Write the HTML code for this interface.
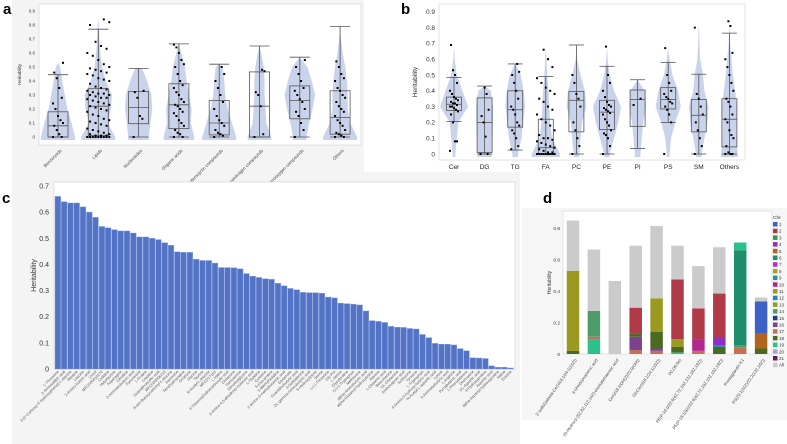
<!DOCTYPE html>
<html><head><meta charset="utf-8"><style>
html,body{margin:0;padding:0;background:#fff;}
svg{display:block;font-family:"Liberation Sans",sans-serif;}
</style></head><body>
<svg id="fig" width="787" height="444" viewBox="0 0 787 444" xmlns="http://www.w3.org/2000/svg">
<rect x="12" y="0" width="352" height="179" fill="#f4f4f4"/>
<rect x="12" y="172" width="508" height="272" fill="#f4f4f4"/>
<rect x="522" y="208" width="265" height="212" fill="#f6f6f6"/>
<g id="ga"></g>
<g id="gb"></g>
<g id="gc"></g>
<g id="gd"></g>
<text x="3" y="14" font-size="15" font-weight="bold">a</text>
<text x="401" y="14" font-size="15" font-weight="bold">b</text>
<text x="2" y="203" font-size="15" font-weight="bold">c</text>
<text x="543" y="203" font-size="15" font-weight="bold">d</text>
</svg>
<script>
const NS="http://www.w3.org/2000/svg";
function mk(parent,tag,attrs,txt){const e=document.createElementNS(NS,tag);for(const k in attrs)e.setAttribute(k,attrs[k]);if(txt!==undefined)e.textContent=txt;parent.appendChild(e);return e;}

// ---------- Panel a data ----------
const aCats=["Benzenoids","Lipids","Nucleosides","Organic acids","Organoheterocyclic compounds","Organonitrogen compounds","Organooxygen compounds","Others"];
const aQ1=[0,0.01,0.095,0.06,0.015,0,0.13,0.02];
const aMed=[0.08,0.22,0.21,0.23,0.10,0.22,0.26,0.14];
const aQ3=[0.18,0.345,0.325,0.38,0.26,0.465,0.365,0.33];
const aLo=[0,0,0,0,0,0,0,0];
const aHi=[0.445,0.77,0.49,0.665,0.52,0.65,0.57,0.79];
const aMax=[0.53,0.85,0.49,0.665,0.52,0.65,0.57,0.79];
const aViolin=[[1,.8,.55,.4,.25,.12,0],[1,.55,.75,.8,.45,.22,.12,.07,.03],[.6,.7,.8,.75,.5,.2],[.9,.7,.75,.6,.45,.35,.15],[1,.75,.5,.35,.3,.2],[.7,.4,.35,.3,.3,.25,.1],[.4,.55,.75,.9,.7,.45],[1,.6,.45,.45,.4,.3,.15,.05]];
const aTicks=[0,0.1,0.2,0.3,0.4,0.5,0.6,0.7,0.8,0.9];
const aDots=[[0,0,0.02,0.05,0.08,0.1,0.12,0.15,0.2,0.24,0.28,0.35,0.42,0.46,0.53],
[0,0,0,0,0,0,0,0,0,0,0.01,0.01,0.01,0.02,0.02,0.03,0.04,0.05,0.06,0.08,0.09,0.1,0.11,0.12,0.13,0.15,0.16,0.18,0.19,0.2,0.21,0.22,0.23,0.24,0.25,0.26,0.27,0.28,0.28,0.29,0.3,0.3,0.31,0.31,0.32,0.33,0.34,0.35,0.36,0.38,0.4,0.41,0.42,0.44,0.45,0.46,0.47,0.48,0.49,0.5,0.52,0.55,0.58,0.6,0.63,0.65,0.68,0.8,0.82,0.84],
[0,0.13,0.15,0.28,0.32,0.33],
[0,0,0.02,0.03,0.05,0.08,0.1,0.12,0.15,0.17,0.18,0.2,0.22,0.23,0.25,0.27,0.3,0.32,0.35,0.37,0.4,0.45,0.5,0.52,0.55,0.6,0.64,0.66],
[0,0.01,0.02,0.03,0.05,0.08,0.1,0.12,0.15,0.2,0.25,0.3,0.35,0.4,0.45,0.5],
[0,0.02,0.22,0.3,0.32,0.47,0.48],
[0,0.05,0.1,0.15,0.18,0.2,0.25,0.27,0.3,0.33,0.35,0.4,0.45,0.5,0.55],
[0,0,0.01,0.02,0.03,0.05,0.08,0.1,0.12,0.15,0.18,0.2,0.22,0.25,0.28,0.3,0.33,0.35,0.4,0.42,0.45,0.5,0.54]];

// ---------- Panel b data ----------
const bCats=["Cer","DG","TG","FA","PC","PE","PI","PS","SM","Others"];
const bQ1=[0.275,0.01,0.17,0,0.14,0.155,0.175,0.285,0.14,0.045];
const bMed=[0.315,0.20,0.28,0.04,0.34,0.265,0.345,0.345,0.245,0.22];
const bQ3=[0.36,0.355,0.40,0.22,0.395,0.34,0.405,0.42,0.345,0.35];
const bLo=[0.205,0,0.025,0,0,0,0.035,0.20,0,0];
const bHi=[0.485,0.43,0.57,0.49,0.69,0.555,0.47,0.58,0.505,0.765];
const bMax=[0.69,0.43,0.57,0.66,0.69,0.68,0.47,0.67,0.80,0.85];
const bViolin=[[.1,.2,.3,1,.6,.2,.05],[.5,.55,.6,.6,.45],[.2,.45,.55,.7,.6,.4],[1,.45,.3,.25,.2,.1,.05],[.2,.3,.4,.7,.6,.3,.05],[.2,.5,.8,1,.5,.2,.05],[.2,.3,.4,.6,.5],[.1,.2,.5,.9,.7,.3,.1],[.2,.4,.6,.7,.4,.3,.1,.05,.02],[.6,.5,.5,.55,.4,.25,.15,.05,.02]];
const bTicks=[0,0.1,0.2,0.3,0.4,0.5,0.6,0.7,0.8,0.9];
const bDots=[[0.02,0.08,0.08,0.2,0.25,0.27,0.28,0.29,0.3,0.3,0.31,0.32,0.32,0.33,0.34,0.35,0.36,0.38,0.4,0.45,0.5,0.53,0.69],
[0,0,0.11,0.2,0.24,0.28,0.38,0.42],
[0.03,0.05,0.1,0.13,0.15,0.18,0.2,0.25,0.28,0.3,0.35,0.4,0.45,0.5,0.52,0.57],
[0,0,0,0,0,0,0,0,0,0,0.01,0.01,0.02,0.03,0.04,0.05,0.06,0.07,0.08,0.09,0.1,0.1,0.12,0.15,0.18,0.2,0.22,0.25,0.28,0.3,0.33,0.35,0.38,0.4,0.42,0.45,0.48,0.55,0.6,0.66],
[0,0.05,0.1,0.15,0.2,0.3,0.35,0.38,0.45,0.5],
[0,0.05,0.1,0.12,0.13,0.15,0.18,0.2,0.22,0.25,0.26,0.27,0.28,0.29,0.3,0.31,0.33,0.36,0.4,0.45,0.5,0.68],
[0.31,0.35],
[0,0.2,0.25,0.28,0.3,0.32,0.33,0.35,0.36,0.38,0.4,0.45,0.5,0.67],
[0,0.05,0.1,0.15,0.2,0.25,0.3,0.35,0.38,0.8],
[0,0,0,0.01,0.05,0.1,0.12,0.15,0.2,0.22,0.25,0.3,0.33,0.35,0.4,0.45,0.5,0.55,0.6,0.64,0.81,0.84]];

// ---------- Panel c data ----------
const cLabels=["L-Threonine","2-Aminoadipic acid","3-(3'-Carboxy-4'-hydroxyphenyl)-L-alanine","Betaine","Leucine","2-Amino-butyric acid","Uracil","MFCD00010270","Cytidine","Hypotaurine","Asparagine","Citrulline","2-Aminoisobutyric acid","Kynurenine","L-Proline","Creatine","Guanidinoacetic acid","MFCD00006215","N-tert-Butoxycarbonyl-L-leucine","Sarcosine","Tetrahydrouridine","Ornithine","Glycine","Taurine","N-Acetyl-L-leucine","MFCD17153","L-Valine","3-Thiomorpholinecarboxylic acid","Glutamine","Homoserine","Dimethylglycine","2-Amino-4,5-dihydroxy-butanoic acid","L-Histidine","Cysteine","5-Oxo-proline","3-Methylhistidine","2-amino-3-methylbutanoic acid","Glutamate","Guanidinobutyric acid","3-Sulfoalanine","DL-gamma-Aminobutyric acid","5-Hydroxylysine","Serine","L-(-)-Threonine","Gly-Pro","L-Serine","Glycylproline","D-(+)-Tryptophan","Methionine","alpha-Aminobutyric acid","alpha-Glutamyl-hydroxylysine","Alanine","L-Glutamic acid","Beta-Alanine","DL-Glutamine","Aminocaproic acid","Isoleucine","Tyrosine","L-Tryptophan","4-Amino-3-hydroxy-butyric acid","N-Acetyl-L-aspartic acid","Lysine","3-Aminoisobutyric acid","L-Arginine","Pyroglutamic acid","L-Phenylalanine","Desmosine","DL-Aspartic acid","4-Hydroxyproline","Aspartic acid","alpha-Aspartyl-hydroxyproline","Valine","Ectoine"];
const cValues=[0.66,0.64,0.635,0.635,0.62,0.60,0.58,0.545,0.54,0.533,0.528,0.528,0.52,0.505,0.505,0.50,0.495,0.483,0.473,0.448,0.446,0.446,0.42,0.415,0.415,0.405,0.388,0.388,0.387,0.383,0.365,0.355,0.35,0.345,0.343,0.328,0.318,0.308,0.303,0.293,0.292,0.292,0.29,0.275,0.272,0.252,0.25,0.248,0.245,0.222,0.185,0.182,0.178,0.163,0.16,0.159,0.155,0.153,0.132,0.12,0.098,0.095,0.095,0.092,0.078,0.07,0.043,0.042,0.04,0.012,0.007,0.007,0.004];
const cTicks=[0,0.1,0.2,0.3,0.4,0.5,0.6,0.7];

// ---------- Panel d data ----------
const dCats=["3'-sulfoGalbeta-Cer(d18:1/24:1(15Z))","3-Ureidopropionic acid","20-Hydroxy-(5Z,8Z,11Z,14Z)-eicosatetraenoic acid","Cer(d18:1/OH(2)/22:0(OH))","GlcCer(d18:1/24:1(15Z))","PC(36:6e)","PE(P-16:0/22:6(4Z,7Z,10Z,13Z,16Z,19Z))","PE(P-18:1(9Z)/22:6(4Z,7Z,10Z,13Z,16Z,19Z))","Prostaglandin K1","PS(20:1(11Z)/22:2(13Z,16Z))"];
const dSegChr=[[18,11,"All"],[19,17,14,"All"],["All"],[17,16,18,2,"All"],[17,16,18,11,"All"],[19,18,11,2,"All"],[17,10,2,"All"],[18,12,4,2,"All"],[17,14,6,19],[18,5,1,"All"]];
const dSegVal=[[0.02,0.51,0.32],[0.09,0.02,0.165,0.39],[0.465],[0.025,0.085,0.02,0.165,0.395],[0.02,0.015,0.105,0.215,0.46],[0.01,0.035,0.05,0.38,0.215],[0.02,0.075,0.195,0.27],[0.045,0.01,0.05,0.28,0.295],[0.04,0.015,0.605,0.05],[0.035,0.095,0.205,0.025]];
const dLegend=[1,2,3,4,5,6,7,8,9,10,11,12,13,14,15,16,17,18,19,20,21,"All"];
const dColors={1:"#3b62c4",2:"#b13a48",3:"#2f9a3c",4:"#8e2fc4",5:"#b0641e",6:"#1f8c6c",7:"#b52fc4",8:"#a9a21e",9:"#1e9a9a",10:"#b3268f",11:"#999a1f",12:"#1f88b5",13:"#8aa31e",14:"#4e9c6c",15:"#1b3d7a",16:"#7a4290",17:"#c46f56",18:"#4a6a22",19:"#2cc18a",20:"#a0a8d8",21:"#6a1a5a","All":"#cbcbcb"};
const dTicks=[0,0.2,0.4,0.6,0.8];

// ---------- box/violin panel drawer ----------
function boxPanel(g,o){
  const y=v=>o.y0-v*o.k;
  const x=i=>o.x0+i*o.step;
  mk(g,"rect",{x:o.L,y:o.T,width:o.R-o.L,height:o.B-o.T,fill:"#fff",stroke:"#ddd","stroke-width":0.8});
  o.ticks.forEach(t=>{const tx=mk(g,"text",{x:o.L-4,y:y(t)+o.fs*0.35,"font-size":o.fs,"text-anchor":"end",fill:"#333"},String(t));
    
    });
  const yl=mk(g,"text",{transform:`translate(${o.ylx},${(o.T+o.B)/2}) rotate(-90)`,"font-size":o.yfs,"text-anchor":"middle",fill:"#333"},"Heritability");
  
  
  o.cats.forEach((c,i)=>{
    const cx=x(i);
    const cg=mk(g,"g",{});
    
    
    const w=o.violin[i];const mx=o.max[i];
    const lv=w.map((v,j)=>Math.min(j*0.1,mx));
    let pts=[];
    lv.forEach((l,j)=>pts.push([cx+w[j]*o.vw,y(l)]));
    pts.push([cx,y(mx)]);
    for(let j=lv.length-1;j>=0;j--)pts.push([cx-w[j]*o.vw,y(lv[j])]);
    let d="M"+pts[0][0]+","+(y(0)+3);
    pts.forEach(p=>d+=" L"+p[0]+","+p[1]);
    d+=" L"+pts[pts.length-1][0]+","+(y(0)+3)+"Z";
    const vp=mk(cg,"path",{d:d,fill:"#c9d3eb","stroke-linejoin":"round"});
    
    
    const bw=o.bw;
    mk(cg,"line",{x1:cx,x2:cx,y1:y(o.lo[i]),y2:y(o.hi[i]),stroke:"#555","stroke-width":0.8});
    mk(cg,"line",{x1:cx-bw/2,x2:cx+bw/2,y1:y(o.hi[i]),y2:y(o.hi[i]),stroke:"#555","stroke-width":0.8});
    mk(cg,"line",{x1:cx-bw/2,x2:cx+bw/2,y1:y(o.lo[i]),y2:y(o.lo[i]),stroke:"#555","stroke-width":0.8});
    const bx=mk(cg,"rect",{x:cx-bw/2,y:y(o.q3[i]),width:bw,height:y(o.q1[i])-y(o.q3[i]),fill:"none",stroke:"#555","stroke-width":0.8});
    
    
    mk(cg,"line",{x1:cx-bw/2,x2:cx+bw/2,y1:y(o.med[i]),y2:y(o.med[i]),stroke:"#555","stroke-width":0.8});
    const n=o.dots[i].length;const spread=n>30?2.2:1;
    o.dots[i].forEach((v,j)=>{const jit=((j*7)%9-4)*o.jit*spread*0.5;
      mk(cg,"rect",{x:cx+jit-o.ds/2,y:y(v)-o.ds/2,width:o.ds,height:o.ds,fill:"#000"});});
    const lt=o.rot?mk(g,"text",{transform:`translate(${cx+4},${o.B+6}) rotate(-45)`,"font-size":o.xfs,"text-anchor":"end",fill:"#444"},c)
                :mk(g,"text",{x:cx,y:o.B+9,"font-size":o.xfs,"text-anchor":"middle",fill:"#222"},c);
    
    
  });
}
boxPanel(document.getElementById("ga"),{L:39,R:361,T:4,B:145,y0:137,k:140,x0:58,step:40.3,cats:aCats,q1:aQ1,med:aMed,q3:aQ3,lo:aLo,hi:aHi,max:aMax,violin:aViolin,dots:aDots,ticks:aTicks,fs:4.5,yfs:4.5,ylx:21,vw:17,bw:20,jit:2.5,ds:2,xfs:4.5,rot:true});
boxPanel(document.getElementById("gb"),{L:439,R:745,T:4,B:160,y0:154,k:158,x0:454,step:30.6,cats:bCats,q1:bQ1,med:bMed,q3:bQ3,lo:bLo,hi:bHi,max:bMax,violin:bViolin,dots:bDots,ticks:bTicks,fs:6.5,yfs:6.5,ylx:417,vw:14,bw:15,jit:2,ds:2,xfs:6.5,rot:false});

// ---------- Panel c ----------
(function(){
  const g=document.getElementById("gc");
  const L=54,R=515,T=182,B=369,k=261.5;
  const y=v=>B-v*k;
  const step=(R-L-2)/cValues.length;
  const x=i=>L+1+i*step;
  mk(g,"rect",{x:L,y:T,width:R-L,height:B-T,fill:"#fff",stroke:"#ddd","stroke-width":0.8});
  cTicks.forEach(t=>{const tx=mk(g,"text",{x:L-5,y:y(t)+2.5,"font-size":7,"text-anchor":"end",fill:"#333"},String(t));
    
    });
  const yl=mk(g,"text",{transform:`translate(36,${(T+B)/2}) rotate(-90)`,"font-size":7,"text-anchor":"middle",fill:"#333"},"Heritability");
  
  
  cValues.forEach((v,i)=>{
    const r=mk(g,"rect",{x:x(i),y:y(v),width:step-0.6,height:B-y(v),fill:"#5273c6",stroke:"#8ea3dc","stroke-width":0.4});
    
    
    const t=mk(g,"text",{transform:`translate(${x(i)+step/2+1},${B+3}) rotate(-45)`,"font-size":3.8,"text-anchor":"end",fill:"#555"},cLabels[i]||"");
    
    
  });
})();

// ---------- Panel d ----------
(function(){
  const g=document.getElementById("gd");
  const L=563,R=772,T=211,B=354,k=157;
  const y=v=>B-v*k;
  const x0=573,step=20.9,bw=12.5;
  mk(g,"rect",{x:L,y:T,width:R-L,height:B-T,fill:"#fff",stroke:"#ddd","stroke-width":0.8});
  dTicks.forEach(t=>{const tx=mk(g,"text",{x:L-3,y:y(t)+1.8,"font-size":4.8,"text-anchor":"end",fill:"#333"},String(t));
    
    });
  const yl=mk(g,"text",{transform:`translate(551,${(T+B)/2}) rotate(-90)`,"font-size":5,"text-anchor":"middle",fill:"#333"},"Heritability");
  
  
  dCats.forEach((c,i)=>{
    const cx=x0+i*step;let acc=0;
    dSegVal[i].forEach((v,j)=>{
      const r=mk(g,"rect",{x:cx-bw/2,y:y(acc+v),width:bw,height:v*k,fill:dColors[dSegChr[i][j]]});
      
      
      acc+=v;
    });
    const t=mk(g,"text",{transform:`translate(${cx+4},${B+6}) rotate(-55)`,"font-size":4.2,"text-anchor":"end",fill:"#444"},c);
    
    
  });
  const lt=mk(g,"text",{x:773,y:219,"font-size":4.8,fill:"#333"},"Chr");
  
  
  dLegend.forEach((c,i)=>{
    const yy=222+i*6.7;
    const e=mk(g,"g",{});
    
    
    mk(e,"rect",{x:773,y:yy,width:4.5,height:4.5,fill:dColors[c]});
    mk(e,"text",{x:779,y:yy+4,"font-size":4.5,fill:"#333"},String(c));
  });
})();
</script>
</body></html>
